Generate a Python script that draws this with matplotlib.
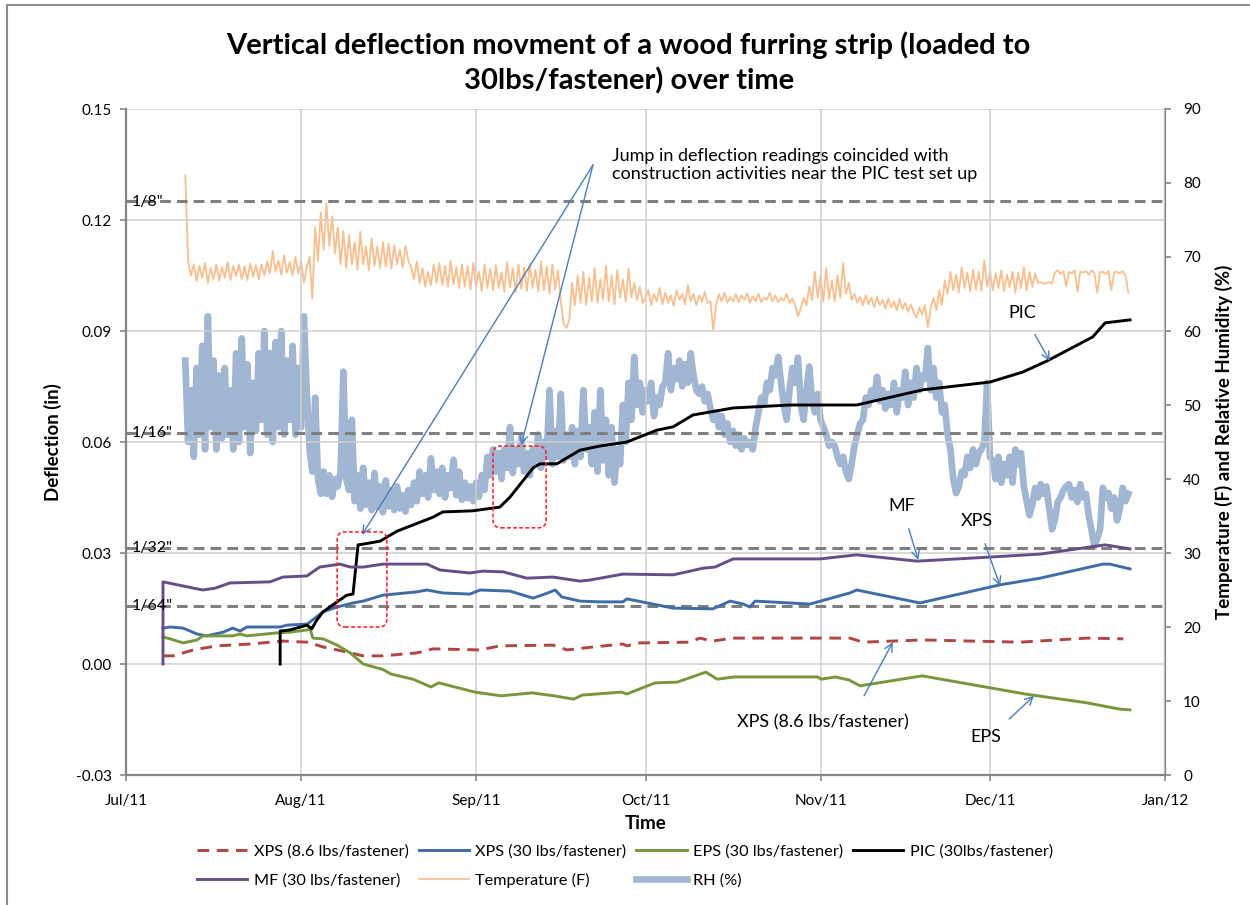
import numpy as np
import matplotlib
matplotlib.use("Agg")
import matplotlib.pyplot as plt
import matplotlib.dates as mdates
from matplotlib.patches import FancyBboxPatch
from matplotlib.lines import Line2D
from datetime import datetime

plt.rcParams['font.family'] = ['Lato', 'DejaVu Sans']

# ---------------- data (days since 1 Jul 2011, values) ----------------
xps86_days = [6.55, 8.3, 11.9, 16.1, 22.0, 27.8, 32.05, 32.6, 34.9, 37.4, 39.7, 42.0, 45.5, 51.5,
              54.4, 62.7, 66.2, 75.6, 78.1, 82.7, 88.0, 88.7, 91.0, 99.9, 101.6, 103.9, 107.5,
              128.2, 130.5, 141.1, 158.3, 170.2, 176.6]
xps86_vals = [0.0022, 0.0022, 0.0038, 0.0049, 0.0054, 0.0062, 0.0059, 0.0057, 0.0046, 0.0038,
              0.0030, 0.0022, 0.0022, 0.0030, 0.0041, 0.0038, 0.0049, 0.0051, 0.0038, 0.0046,
              0.0054, 0.0049, 0.0057, 0.0059, 0.0070, 0.0062, 0.0070, 0.0070, 0.0059, 0.0065,
              0.0059, 0.0070, 0.0068]

xps30_days = [6.55, 7.8, 10.1, 12.6, 14.3, 17.2, 18.9, 20.2, 21.4, 27.3, 28.5, 32.1, 34.9, 37.4,
              40.2, 42.0, 45.5, 51.5, 53.3, 56.1, 60.9, 62.7, 68.0, 72.1, 74.7, 76.0, 77.2, 80.4,
              83.9, 88.0, 88.7, 96.9, 103.9, 107.0, 109.3, 110.5, 111.4, 121.1, 128.2, 129.4,
              140.6, 154.8, 161.9, 173.0, 174.2, 177.8]
xps30_vals = [0.0097, 0.0100, 0.0097, 0.0081, 0.0076, 0.0086, 0.0097, 0.0089, 0.0100, 0.0100,
              0.0105, 0.0108, 0.0141, 0.0154, 0.0165, 0.0170, 0.0186, 0.0195, 0.0200, 0.0192,
              0.0189, 0.0200, 0.0197, 0.0178, 0.0192, 0.0200, 0.0181, 0.0170, 0.0168, 0.0168,
              0.0176, 0.0151, 0.0149, 0.0170, 0.0162, 0.0154, 0.0170, 0.0162, 0.0192, 0.0200,
              0.0165, 0.0214, 0.0232, 0.0270, 0.0270, 0.0257]

eps_days = [6.55, 7.8, 10.1, 12.6, 13.6, 18.9, 20.2, 21.4, 26.7, 29.0, 32.05, 32.6, 33.1, 34.9,
            37.4, 39.7, 42.0, 45.5, 46.9, 50.8, 54.0, 55.4, 61.8, 66.4, 71.9, 75.8, 79.3, 80.8,
            87.7, 88.7, 93.7, 97.6, 102.7, 104.7, 107.7, 122.5, 123.1, 125.6, 128.0, 130.0,
            141.0, 159.2, 170.2, 176.0, 177.8]
eps_vals = [0.0073, 0.0068, 0.0057, 0.0065, 0.0076, 0.0076, 0.0081, 0.0076, 0.0084, 0.0086,
            0.0092, 0.0095, 0.0070, 0.0068, 0.0051, 0.0030, 0.0000, -0.0015, -0.0027, -0.0041,
            -0.0062, -0.0051, -0.0076, -0.0086, -0.0078, -0.0086, -0.0095, -0.0084, -0.0076,
            -0.0081, -0.0051, -0.0049, -0.0022, -0.0041, -0.0035, -0.0035, -0.0041, -0.0035,
            -0.0043, -0.0059, -0.0032, -0.0081, -0.0105, -0.0122, -0.0124]

pic_days = [27.3, 27.3, 29.0, 32.05, 32.9, 33.8, 34.9, 37.4, 39.1, 40.2, 41.1, 42.0, 45.0, 46.2,
            48.0, 54.4, 56.1, 61.4, 66.2, 68.0, 72.1, 73.3, 76.3, 80.4, 83.9, 88.7, 94.0, 96.9,
            100.4, 103.4, 107.5, 117.6, 129.4, 141.1, 153.0, 158.8, 163.1, 171.2, 173.4, 177.8]
pic_vals = [0.0, 0.0089, 0.0092, 0.0105, 0.0095, 0.0119, 0.0141, 0.0168, 0.0186, 0.0189,
            0.0322, 0.0324, 0.0332, 0.0343, 0.0359, 0.0397, 0.0411, 0.0414, 0.0424, 0.0451,
            0.0530, 0.0541, 0.0541, 0.0578, 0.0589, 0.0600, 0.0632, 0.0641, 0.0673, 0.0681,
            0.0692, 0.0700, 0.0700, 0.0741, 0.0762, 0.0789, 0.0819, 0.0884, 0.0922, 0.0930]

mf_days = [6.55, 6.55, 13.6, 15.8, 18.4, 25.5, 27.8, 32.05, 34.3, 37.9, 39.7, 42.0, 45.5, 53.3,
           55.6, 60.9, 63.2, 66.8, 71.0, 75.6, 80.4, 82.2, 88.0, 96.9, 99.9, 102.2, 104.3,
           107.5, 122.9, 129.4, 140.1, 153.0, 161.9, 173.4, 177.8]
mf_vals = [0.0, 0.0222, 0.0200, 0.0205, 0.0219, 0.0222, 0.0235, 0.0238, 0.0262, 0.0270, 0.0262,
           0.0262, 0.0270, 0.0270, 0.0254, 0.0246, 0.0251, 0.0249, 0.0232, 0.0235, 0.0224,
           0.0227, 0.0243, 0.0241, 0.0251, 0.0259, 0.0262, 0.0284, 0.0284, 0.0295, 0.0278,
           0.0289, 0.0297, 0.0322, 0.0311]

# logger readings every 12 h starting 11 Jul 2011 12:00
log_start_day = 10.5
log_step_day = 0.5
temp_vals = [
    81.0, 69.5, 67.5, 69.0, 66.8, 68.8, 67.2, 69.2, 66.5, 68.5,
    67.0, 69.0, 66.8, 68.6, 67.2, 69.3, 66.9, 68.8, 67.4, 69.0,
    67.0, 68.7, 66.9, 69.1, 67.3, 68.9, 67.0, 69.0, 67.5, 69.4,
    67.8, 70.8, 68.0, 69.5, 67.6, 70.2, 67.9, 69.3, 67.5, 70.0,
    67.8, 69.5, 66.5, 68.5, 70.0, 64.4, 74.0, 69.5, 76.0, 71.0,
    77.3, 71.5, 75.5, 70.5, 74.0, 69.0, 73.5, 68.5, 73.0, 69.0,
    72.0, 68.3, 73.4, 69.0, 71.5, 68.2, 72.5, 68.8, 71.4, 68.5,
    72.0, 68.7, 71.8, 68.4, 71.6, 69.0, 71.0, 68.6, 71.5, 69.5,
    68.6, 67.0, 69.4, 66.5, 68.5, 66.0, 68.0, 66.2, 69.0, 66.5,
    69.2, 66.2, 68.8, 66.0, 69.5, 66.3, 68.6, 65.8, 69.0, 66.0,
    68.8, 65.6, 69.2, 66.0, 68.0, 65.4, 69.0, 65.8, 68.4, 65.5,
    68.9, 65.8, 67.9, 65.3, 69.3, 65.9, 68.5, 65.2, 69.0, 65.7,
    68.6, 65.4, 69.1, 65.8, 68.3, 65.3, 69.4, 65.5, 68.7, 65.0,
    69.0, 65.6, 68.2, 64.0, 61.0, 60.4, 61.5, 66.5, 63.5, 67.5,
    63.8, 68.0, 63.5, 67.2, 64.0, 68.5, 63.8, 67.0, 64.2, 68.8,
    64.0, 67.5, 63.6, 68.2, 64.5, 67.0, 64.0, 68.4, 64.6, 66.5,
    64.2, 66.0, 63.8, 64.5, 65.5, 63.5, 65.0, 64.0, 65.8, 63.6,
    65.2, 63.8, 64.8, 63.4, 65.5, 64.2, 65.0, 63.6, 66.2, 64.0,
    65.0, 63.5, 64.8, 64.0, 65.3, 63.8, 64.0, 60.1, 63.5, 65.0,
    64.0, 65.2, 63.8, 64.6, 64.0, 65.0, 63.9, 64.8, 64.2, 65.1,
    63.8, 64.7, 64.0, 65.0, 63.9, 64.5, 64.2, 65.2, 64.0, 64.8,
    63.9, 64.5, 64.1, 65.0, 63.8, 64.4, 63.5, 62.0, 63.0, 64.5,
    63.5, 66.0, 64.2, 68.0, 64.5, 67.5, 64.0, 68.5, 64.3, 66.8,
    64.0, 67.5, 64.5, 69.2, 65.0, 66.5, 64.2, 65.0, 63.8, 64.6,
    63.5, 64.8, 63.6, 64.5, 63.2, 64.6, 63.5, 64.2, 63.0, 64.4,
    63.2, 64.0, 62.8, 64.3, 63.0, 63.8, 62.6, 63.6, 62.5, 61.8,
    63.2, 62.2, 63.5, 60.5, 63.0, 64.5, 62.8, 65.5, 63.5, 66.8,
    65.0, 68.0, 65.5, 67.6, 65.2, 68.6, 65.8, 67.9, 65.3, 68.3,
    65.6, 68.0, 65.4, 69.5, 66.0, 68.0, 65.5, 67.8, 65.8, 68.2,
    65.4, 67.6, 65.9, 68.0, 65.2, 67.9, 65.8, 68.6, 65.5, 68.0,
    66.0, 67.8, 66.5, 66.6, 66.4, 66.5, 66.6, 66.4, 67.9, 68.2,
    67.7, 68.1, 66.0, 68.0, 67.8, 68.2, 65.3, 68.0, 67.9, 68.1,
    67.6, 68.2, 67.8, 65.2, 67.9, 68.0, 67.7, 68.1, 65.5, 67.9,
    68.0, 67.8, 68.1, 67.5, 65.2]

rh_vals = [
    56.0, 45.0, 52.0, 43.0, 55.0, 46.0, 58.0, 44.0, 62.0, 47.0,
    56.0, 44.0, 54.0, 45.5, 55.0, 46.0, 52.0, 44.0, 57.0, 45.0,
    59.0, 47.0, 55.5, 43.5, 53.0, 46.5, 57.0, 48.0, 60.0, 46.0,
    57.0, 45.0, 58.5, 47.0, 60.0, 46.0, 56.0, 48.0, 58.0, 46.0,
    55.0, 47.0, 62.0, 52.0, 44.0, 41.0, 51.0, 40.0, 38.0, 41.0,
    38.0, 40.5, 37.6, 40.0, 39.0, 41.0, 54.5, 40.0, 38.5, 48.0,
    37.0, 40.5, 36.0, 41.5, 36.5, 39.5, 35.8, 40.8, 36.2, 39.0,
    35.5, 39.8, 36.3, 38.5, 35.8, 39.0, 36.0, 37.8, 35.6, 38.5,
    36.5, 39.5, 37.0, 41.0, 38.0, 40.5, 37.5, 42.8, 38.5, 41.0,
    38.0, 41.5, 37.5, 40.5, 38.8, 42.6, 37.8, 41.0, 37.2, 39.5,
    37.4, 39.0, 37.0, 39.5, 37.6, 40.5, 38.5, 43.0, 40.5, 44.0,
    41.0, 43.5, 40.0, 44.0, 41.5, 47.0, 40.8, 44.0, 42.0, 45.5,
    41.0, 43.5, 40.5, 44.0, 42.0, 46.0, 41.5, 45.0, 43.0, 52.0,
    42.0, 46.5, 43.0, 51.5, 42.5, 46.0, 43.0, 47.0, 42.0, 46.5,
    43.0, 52.0, 44.0, 47.0, 42.0, 49.0, 41.0, 52.0, 42.5, 48.0,
    40.5, 47.0, 39.5, 44.0, 42.0, 50.0, 45.0, 53.0, 48.0, 56.5,
    50.0, 53.0, 49.0, 52.0, 50.5, 53.0, 48.5, 51.0, 50.0, 52.5,
    53.0, 57.0, 52.0, 55.0, 53.5, 56.0, 52.5, 55.5, 53.0, 57.0,
    54.0, 52.0, 51.5, 52.5, 50.5, 51.5, 49.5, 48.0, 49.0, 47.0,
    48.5, 46.0, 47.5, 45.0, 46.5, 44.5, 46.0, 44.0, 45.5, 44.6,
    45.0, 44.0, 47.0, 49.0, 51.0, 50.0, 53.0, 52.0, 55.0, 54.0,
    56.5, 53.0, 50.0, 48.0, 52.0, 55.0, 53.0, 56.4, 50.0, 48.0,
    52.0, 55.2, 50.5, 49.0, 51.5, 48.0, 47.0, 46.0, 44.5, 45.0,
    44.5, 43.0, 42.0, 43.0, 41.0, 40.0, 42.0, 44.5, 46.0, 47.5,
    48.0, 51.0, 50.0, 52.0, 51.0, 53.8, 50.5, 52.0, 49.5, 51.5,
    50.0, 53.0, 49.0, 52.0, 51.0, 54.5, 50.0, 53.0, 51.0, 55.0,
    52.0, 54.0, 53.5, 57.7, 52.0, 55.0, 51.0, 53.0, 49.0, 50.0,
    46.0, 44.0, 40.0, 38.1, 39.0, 41.0, 40.5, 43.0, 41.5, 44.0,
    42.0, 43.5, 44.0, 45.0, 53.0, 43.0, 42.5, 40.0, 43.0, 39.5,
    42.0, 40.5, 43.0, 39.5, 44.0, 42.0, 43.5, 39.0, 37.0, 35.1,
    36.5, 38.8, 37.5, 39.3, 38.0, 39.0, 36.0, 33.2, 34.5, 36.9,
    37.5, 38.5, 39.0, 39.3, 37.5, 38.5, 36.9, 39.3, 37.5, 38.0,
    35.0, 33.0, 30.9, 32.0, 33.2, 38.8, 37.5, 38.1, 36.0, 37.5,
    34.4, 36.0, 38.8, 37.0, 38.0]

ref_vals = [0.125, 0.0625, 0.03125, 0.015625]
ref_labels = ['1/8"', '1/16"', '1/32"', '1/64"']

# ---------------- figure ----------------
W, H = 1250, 905
fig = plt.figure(figsize=(W / 100, H / 100), dpi=100)
L, R, T, B = 126, 1165, 109, 775
ax = fig.add_axes([L / W, 1 - B / H, (R - L) / W, (B - T) / H])
ax2 = ax.twinx()
ax.set_zorder(ax2.get_zorder() + 1)
ax.patch.set_visible(False)

base = mdates.date2num(datetime(2011, 7, 1))
def X(days):
    return base + np.asarray(days, dtype=float)

c_xps86 = '#b04541'
c_xps30 = '#3e6ca6'
c_eps = '#77973d'
c_pic = '#000000'
c_mf = '#664d8a'
c_temp = '#f9bf8f'
c_rh = '#a0b6d3'

log_days = log_start_day + log_step_day * np.arange(len(temp_vals))
rh_days = log_start_day + log_step_day * np.arange(len(rh_vals))
h_temp, = ax2.plot(X(log_days), temp_vals, color=c_temp, lw=1.3, label='Temperature (F)')
h_rh, = ax2.plot(X(rh_days), rh_vals, color=c_rh, lw=4.8, solid_joinstyle='round',
                 label='RH (%)')

# gridlines
ax.grid(True, color='#cfcfcf', lw=1.1)
ax.set_axisbelow(True)

# reference lines
for v, lab in zip(ref_vals, ref_labels):
    ax.axhline(v, color='#7f7f7f', lw=2.2, dashes=(3.5, 2.0), zorder=1.5)
    ax.text(X(1.0), v, lab, ha='left', va='center', fontsize=11.5, color='black', zorder=3)

h_xps86, = ax.plot(X(xps86_days), xps86_vals, color=c_xps86, lw=2.1, dashes=(4, 2.6),
                   label='XPS (8.6 lbs/fastener)')
h_xps30, = ax.plot(X(xps30_days), xps30_vals, color=c_xps30, lw=2.1, label='XPS (30 lbs/fastener)')
h_eps, = ax.plot(X(eps_days), eps_vals, color=c_eps, lw=2.1, label='EPS (30 lbs/fastener)')
h_pic, = ax.plot(X(pic_days), pic_vals, color=c_pic, lw=2.1, label='PIC (30lbs/fastener)')
h_mf, = ax.plot(X(mf_days), mf_vals, color=c_mf, lw=2.1, label='MF (30 lbs/fastener)')

# axes ranges and ticks
ax.set_xlim(X(0), X(184))
ax.set_ylim(-0.03, 0.15)
ax.set_yticks([-0.03, 0.0, 0.03, 0.06, 0.09, 0.12, 0.15])
ax.yaxis.set_major_formatter(matplotlib.ticker.FormatStrFormatter('%.2f'))
ax.xaxis.set_major_locator(mdates.MonthLocator())
ax.xaxis.set_major_formatter(mdates.DateFormatter('%b/%y'))
ax2.set_ylim(0, 90)
ax2.set_yticks(range(0, 91, 10))

spine_c = '#868686'
for a in (ax, ax2):
    for s in a.spines.values():
        s.set_color(spine_c)
        s.set_linewidth(1.6)
    a.spines['top'].set_visible(False)
ax.spines['right'].set_visible(False)
ax2.spines['left'].set_visible(False)
ax2.spines['bottom'].set_visible(False)
ax.tick_params(axis='y', direction='out', length=4, width=1.2, color=spine_c, pad=6,
               labelsize=11, labelcolor='black')
ax.tick_params(axis='x', direction='out', length=4, width=1.2, color=spine_c, pad=10,
               labelsize=11, labelcolor='black')
ax2.tick_params(axis='y', direction='out', length=4, width=1.2, color=spine_c, pad=9,
                labelsize=11, labelcolor='black')

ax.set_xlabel('Time', fontsize=13.5, fontweight='bold', labelpad=5)
ax.set_ylabel('Deflection (in)', fontsize=13.5, fontweight='bold', labelpad=10)
ax2.set_ylabel('Temperature (F) and Relative Humidity (%)', fontsize=13.5, fontweight='bold',
               labelpad=10)

fig.text(0.503, 1 - 63 / H,
         'Vertical deflection movment of a wood furring strip (loaded to\n30lbs/fastener) over time',
         ha='center', va='center', fontsize=21, fontweight='bold', linespacing=1.38)

# annotations
acol = '#4a7ebb'
aprops = dict(arrowstyle='->', color=acol, lw=1.0, mutation_scale=14, shrinkA=0, shrinkB=0)
ax.annotate('', xy=(X(41.8), 0.0349), xytext=(X(82.7), 0.1349), arrowprops=aprops)
ax.annotate('', xy=(X(70.0), 0.0592), xytext=(X(82.7), 0.1349), arrowprops=aprops)
ax.text(X(86.1), 0.1349, 'Jump in deflection readings coincided with\n'
        'construction activities near the PIC test set up',
        ha='left', va='center', fontsize=13, linespacing=1.2)

ax.annotate('PIC', xy=(X(163.6), 0.0819), xytext=(X(158.8), 0.0949), fontsize=13,
            ha='center', va='center', arrowprops=dict(aprops, shrinkA=9))
ax.annotate('MF', xy=(X(140.3), 0.0281), xytext=(X(137.4), 0.0427), fontsize=13,
            ha='center', va='center', arrowprops=dict(aprops, shrinkA=9))
ax.annotate('XPS', xy=(X(154.8), 0.0211), xytext=(X(150.7), 0.0386), fontsize=13,
            ha='center', va='center', arrowprops=dict(aprops, shrinkA=9))
ax.annotate('', xy=(X(135.8), 0.0059), xytext=(X(130.7), -0.0086), arrowprops=aprops)
ax.text(X(123.4), -0.0157, 'XPS (8.6 lbs/fastener)', fontsize=13, ha='center', va='center')
ax.annotate('', xy=(X(160.8), -0.0086), xytext=(X(156.4), -0.0149), arrowprops=aprops)
ax.text(X(152.3), -0.0197, 'EPS', fontsize=13, ha='center', va='center')

# red dashed rounded boxes
for d0, d1, v0, v1 in [(37.4, 46.2, 0.0100, 0.0357), (65.0, 74.4, 0.0368, 0.0589)]:
    box = FancyBboxPatch((X(d0), v0), d1 - d0, v1 - v0,
                         boxstyle='round,pad=0,rounding_size=1.4', mutation_aspect=0.00152,
                         fill=False, edgecolor='#ff1a1a', lw=1.1, ls=(0, (2.5, 1.5)), zorder=4)
    ax.add_patch(box)

# legend
handles = [h_xps86, h_mf, h_xps30, h_temp, h_eps, h_rh, h_pic]
fig.legend(handles, [h.get_label() for h in handles], loc='center',
           bbox_to_anchor=(0.5, 1 - 866 / H), ncol=4, frameon=False, fontsize=11.7,
           handlelength=3.1, handletextpad=0.4, columnspacing=0.6, labelspacing=0.9)

# chart-area border (top and left visible)
fig.add_artist(Line2D([7 / W, 7 / W], [0, 1 - 5 / H], color='#8c8c8c', lw=1.5))
fig.add_artist(Line2D([7 / W, 1], [1 - 5 / H, 1 - 5 / H], color='#8c8c8c', lw=1.5))

fig.savefig('out.png', dpi=100)
